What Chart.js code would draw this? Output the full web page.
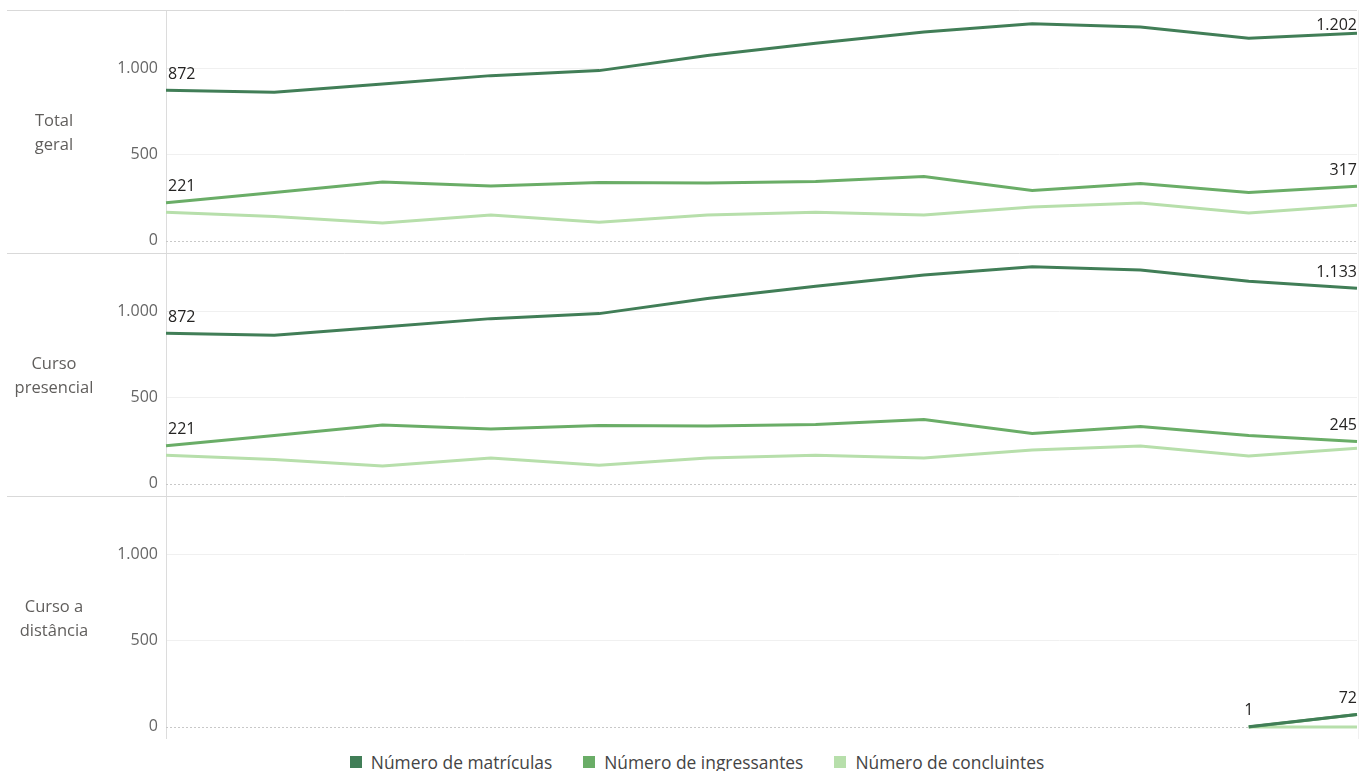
<!DOCTYPE html>
<html>
<head>
<meta charset="utf-8">
<script src="https://cdn.jsdelivr.net/npm/chart.js@4.4.1/dist/chart.umd.min.js"></script>
<style>
  html, body { margin: 0; padding: 0; background: #fff; }
  body { width: 1370px; height: 771px; position: relative; overflow: hidden; font-family: "Open Sans", "Noto Sans", sans-serif; }
  .panel { position: absolute; left: 0; width: 1370px; height: 243px; }
  .rowlabel { position: absolute; left: 0; width: 108px; height: 243px; display: flex; align-items: center; justify-content: center; text-align: center; font-size: 16.5px; line-height: 24px; color: #605e5c; }
  .legend { position: absolute; top: 750px; left: 12px; width: 1370px; display: flex; justify-content: center; font-size: 17.4px; color: #444; }
  .legend .item { display: flex; align-items: center; margin: 0 15.5px; }
  .legend .sw { width: 12px; height: 12px; margin-right: 9px; }
</style>
</head>
<body>
<div id="root"></div>
<div class="legend" id="legend"></div>
<script>
// ---- data ----
const periods = ['1','2','3','4','5','6','7','8','9','10','11','12'];
const rowLabels = ['Total geral', 'Curso presencial', 'Curso a distância'];
const seriesNames = ['Número de matrículas', 'Número de ingressantes', 'Número de concluintes'];
const yTicks = [0, 500, 1000];

const totalMatriculas   = [872, 861, 909, 957, 986, 1074, 1145, 1209, 1257, 1238, 1174, 1202];
const totalIngressantes = [221, 280, 341, 318, 338, 335, 344, 373, 292, 333, 281, 317];
const totalConcluintes  = [166, 142, 104, 150, 108, 150, 166, 150, 196, 219, 162, 206];

const presMatriculas   = [872, 861, 909, 957, 986, 1074, 1145, 1209, 1257, 1238, 1173, 1133];
const presIngressantes = [221, 280, 341, 318, 338, 335, 344, 373, 292, 333, 281, 245];
const presConcluintes  = [166, 142, 104, 150, 108, 150, 166, 150, 196, 219, 162, 206];

const distMatriculas   = [null, null, null, null, null, null, null, null, null, null, 1, 72];
const distIngressantes = [null, null, null, null, null, null, null, null, null, null, 0, 72];
const distConcluintes  = [null, null, null, null, null, null, null, null, null, null, 0, 0];

// ---- styles ----
const colors = ['#417e57', '#6aad67', '#b7dfab'];
const panelTops = [10, 253, 496];

function fmt(v) {
  const s = Math.round(Math.abs(v)).toString();
  return (v < 0 ? '-' : '') + s.replace(/\B(?=(\d{3})+(?!\d))/g, '.');
}

const panelData = [
  [totalMatriculas, totalIngressantes, totalConcluintes],
  [presMatriculas, presIngressantes, presConcluintes],
  [distMatriculas, distIngressantes, distConcluintes]
];
const labelFlags = [
  [true, true, false],
  [true, true, false],
  [true, false, false]
];

const decorPlugin = {
  id: 'decor',
  beforeDatasetsDraw(chart) {
    const ctx = chart.ctx, a = chart.chartArea, y = chart.scales.y;
    ctx.save();
    const y0 = Math.round(y.getPixelForValue(0)) + 0.5;
    ctx.strokeStyle = '#c8c8c8';
    ctx.lineWidth = 1;
    ctx.setLineDash([2, 2]);
    ctx.beginPath(); ctx.moveTo(a.left, y0); ctx.lineTo(a.right, y0); ctx.stroke();
    ctx.setLineDash([]);
    ctx.restore();
  },
  afterDraw(chart) {
    const ctx = chart.ctx, a = chart.chartArea;
    ctx.save();
    ctx.strokeStyle = '#d9d9d9';
    ctx.lineWidth = 1;
    ctx.beginPath(); ctx.moveTo(7, a.top + 0.5); ctx.lineTo(a.right, a.top + 0.5); ctx.stroke();
    ctx.strokeStyle = '#f0f0f0';
    ctx.beginPath(); ctx.moveTo(a.right + 1.5, a.top); ctx.lineTo(a.right + 1.5, a.bottom); ctx.stroke();
    ctx.restore();
  },
  afterDatasetsDraw(chart) {
    const ctx = chart.ctx, a = chart.chartArea;
    ctx.save();
    ctx.font = '16px "Open Sans", "Noto Sans", sans-serif';
    ctx.fillStyle = '#252423';
    ctx.textBaseline = 'middle';
    chart.data.datasets.forEach((ds, di) => {
      if (!ds.showEnds) return;
      const meta = chart.getDatasetMeta(di);
      const idx = [];
      ds.data.forEach((v, i) => { if (v !== null) idx.push(i); });
      if (!idx.length) return;
      [idx[0], idx[idx.length - 1]].forEach(i => {
        const pt = meta.data[i];
        const txt = fmt(ds.data[i]);
        const w = ctx.measureText(txt).width;
        let x = pt.x - w / 2;
        if (x < a.left + 2) x = a.left + 2;
        if (x + w > a.right) x = a.right - w;
        let yy = pt.y - 16;
        if (yy < a.top + 15) yy = a.top + 15;
        ctx.textAlign = 'left';
        ctx.fillText(txt, x, yy);
      });
    });
    ctx.restore();
  }
};

const root = document.getElementById('root');
panelData.forEach((series, p) => {
  const wrap = document.createElement('div');
  wrap.className = 'panel';
  wrap.style.top = panelTops[p] + 'px';
  const cv = document.createElement('canvas');
  wrap.appendChild(cv);
  root.appendChild(wrap);

  const lab = document.createElement('div');
  lab.className = 'rowlabel';
  lab.style.top = panelTops[p] + 'px';
  lab.innerHTML = p === 0 ? 'Total<br>geral' : (p === 1 ? 'Curso<br>presencial' : 'Curso a<br>distância');
  lab.setAttribute('title', rowLabels[p]);
  root.appendChild(lab);

  new Chart(cv, {
    type: 'line',
    data: {
      labels: periods,
      datasets: series.map((d, i) => ({
        label: seriesNames[i],
        data: d,
        borderColor: colors[i],
        backgroundColor: colors[i],
        borderWidth: 3,
        pointRadius: 0,
        tension: 0,
        spanGaps: false,
        showEnds: labelFlags[p][i]
      }))
    },
    options: {
      responsive: true,
      maintainAspectRatio: false,
      animation: false,
      events: [],
      layout: { padding: { left: 0, right: 13, top: 0, bottom: 0 } },
      plugins: { legend: { display: false }, tooltip: { enabled: false } },
      scales: {
        x: { display: false, offset: false },
        y: {
          min: -70,
          max: 1337,
          afterBuildTicks: (s) => { s.ticks = yTicks.map(v => ({ value: v })); },
          afterFit: (s) => { s.width = 166; s.paddingTop = 0; s.paddingBottom = 0; },
          ticks: {
            padding: 8,
            color: '#666666',
            font: { family: '"Open Sans", "Noto Sans", sans-serif', size: 16 },
            callback: (v) => fmt(v)
          },
          grid: {
            drawTicks: false,
            color: (c) => (c.tick && c.tick.value === 0) ? 'rgba(0,0,0,0)' : '#f0f0f0',
            lineWidth: 1
          },
          border: { display: true, color: '#dcdcdc', width: 1 }
        }
      }
    },
    plugins: [decorPlugin]
  });
});

const leg = document.getElementById('legend');
seriesNames.forEach((n, i) => {
  const it = document.createElement('div');
  it.className = 'item';
  it.innerHTML = '<span class="sw" style="background:' + colors[i] + '"></span><span>' + n + '</span>';
  leg.appendChild(it);
});
</script>
</body>
</html>
